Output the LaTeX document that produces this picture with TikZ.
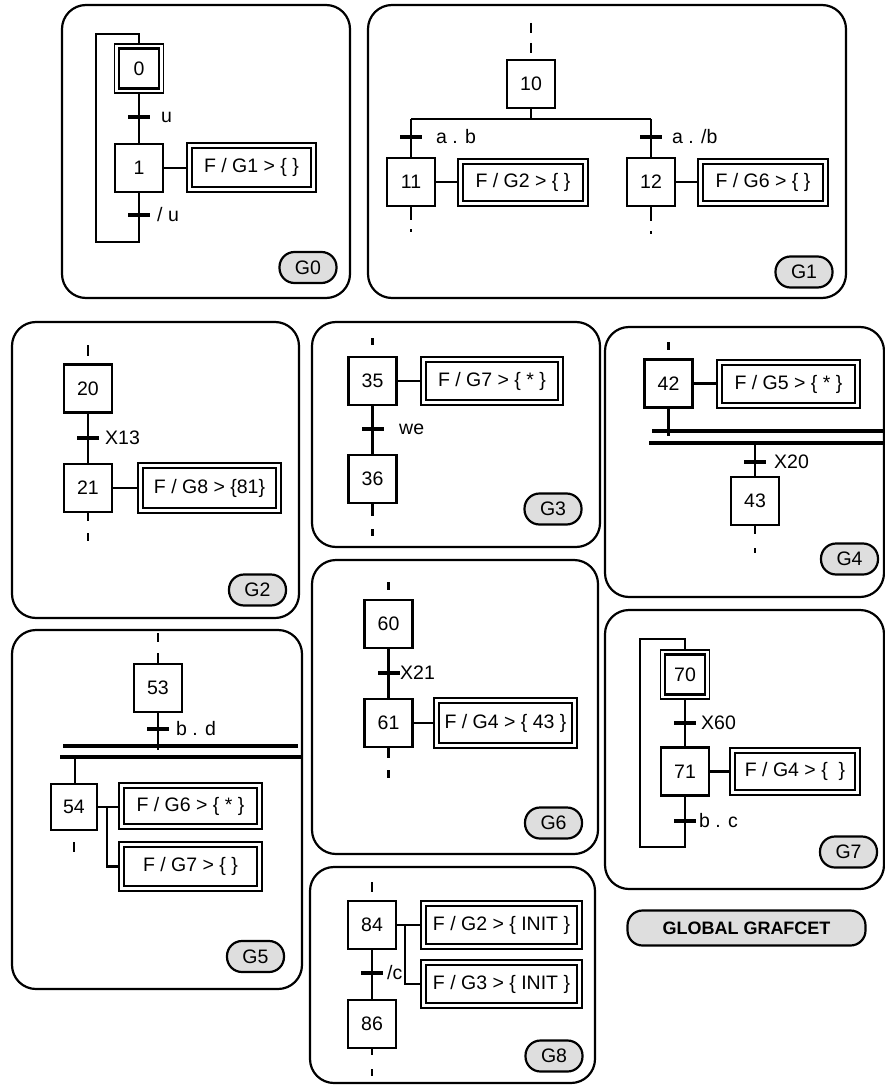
\documentclass[tikz,border=0pt]{standalone}
\usepackage{fontspec}
\setmainfont{Liberation Sans}
\usetikzlibrary{positioning, calc}
\usepackage{xcolor}
\definecolor{tagfill}{RGB}{222, 222, 222}

\begin{document}
\begin{tikzpicture}[
    x=1pt, y=-1pt,
    font=\fontsize{19.5}{22}\selectfont,
    % 面板样式
    panel/.style={draw=black, line width=2.2pt, rounded corners=24pt},
    % 步骤样式
    stepbox/.style={
        rectangle, draw=black, line width=2.4pt,
        minimum size=48, inner sep=0pt
    },
    % 初始步骤样式
    initstep/.style={
        rectangle, draw=black, line width=1.8pt,
        minimum size=49, inner sep=0pt,
        path picture={\draw[line width=2.8pt]
            ([shift={(4.5pt,-4.5pt)}]path picture bounding box.north west) rectangle
            ([shift={(-4.5pt,4.5pt)}]path picture bounding box.south east);}
    },
    % 动作样式
    actionbox/.style 2 args={
        rectangle, draw=black, line width=1.5pt,
        minimum width=#1, minimum height=#2, inner sep=0pt,
        path picture={\draw[line width=2.6pt]
            ([shift={(5pt,-5pt)}]path picture bounding box.north west) rectangle
            ([shift={(-5pt,5pt)}]path picture bounding box.south east);}
    },
    % 转换样式
    trans/.style={rectangle, fill=black, minimum width=22, minimum height=3.2, inner sep=0pt},
    cond/.style={anchor=west, inner sep=0pt},
    % 标签样式
    tag/.style={
        rectangle, rounded corners=15pt, draw=black, line width=2.2pt, fill=tagfill,
        minimum width=57, minimum height=31, inner sep=0pt
    },
    % 连线样式
    link/.style={line width=2.5pt},
    syncbar/.style={line width=3.4pt},
    tail/.style={link, dash pattern=#1},
]
\useasboundingbox (0,0) rectangle (885,1086);

% ==================== G0 ====================
\draw[panel] (62,5) rectangle (350,298);
\node[initstep] (s0) at (139,68.5) {0};
\node[trans] (t0) at (139,117) {};
\node[cond] (c0) at (161,117) {u};
\node[stepbox] (s1) at (139,168) {1};
\node[actionbox={129}{49}] (a1) at (251.5,167.5) {F / G1 > \{ \}};
\node[trans] (t1) at (139,215) {};
\node[cond] (c1) at (157,215) {/ u};
\node[tag] (g0) at (308,267.5) {G0};
\coordinate (l0a) at (139,242);
\coordinate (l0b) at (96,34);

\draw[link] (s0) -- (t0) -- (s1);
\draw[link] (s1.east) -- (s1.east -| a1.west);
\draw[link] (s1) -- (t1) -- (l0a) -| (l0b) -| (s0.north);

% ==================== G1 ====================
\draw[panel] (368,5) rectangle (846,298);
\coordinate (in10) at (531,23);
\node[stepbox] (s10) at (531,84) {10};
\coordinate (d10) at (531,119);
\coordinate (dl) at (411,119);
\coordinate (dr) at (651,119);
\node[trans] (t11) at (411,137) {};
\node[cond] (c11) at (436,137) {a . b};
\node[stepbox] (s11) at (411,182) {11};
\node[actionbox={130}{47}] (a11) at (523,182.5) {F / G2 > \{ \}};
\coordinate (e11) at (411,233);
\node[trans] (t12) at (651,137) {};
\node[cond] (c12) at (672,137) {a . /b};
\node[stepbox] (s12) at (651,182) {12};
\node[actionbox={130}{47}] (a12) at (763,182.5) {F / G6 > \{ \}};
\coordinate (e12) at (651,234);
\node[tag] (g1) at (804,272) {G1};

\draw[link, dash pattern=on 10pt off 10pt] (in10) -- (s10);
\draw[link] (s10) -- (d10);
\draw[link] (dl) -- (dr);
\draw[link] (dl) -- (t11) -- (s11);
\draw[link] (dr) -- (t12) -- (s12);
\draw[link] (s11.east) -- (s11.east -| a11.west);
\draw[link] (s12.east) -- (s12.east -| a12.west);
\draw[tail={on 13pt off 9pt on 3pt off 20pt}] (s11) -- (e11);
\draw[tail={on 14pt off 10pt on 3pt off 20pt}] (s12) -- (e12);

% ==================== G2 ====================
\draw[panel] (12,322) rectangle (299,618);
\coordinate (in20) at (88,345);
\node[stepbox] (s20) at (88,388.5) {20};
\node[trans] (t20) at (88,438) {};
\node[cond] (c20) at (105,438) {X13};
\node[stepbox] (s21) at (88,488) {21};
\node[actionbox={143}{50}] (a21) at (209.5,488) {F / G8 > \{81\}};
\coordinate (e21) at (88,541);
\node[tag] (g2) at (257.5,590) {G2};

\draw[link, dash pattern=on 11pt off 30pt] (in20) -- (s20);
\draw[link] (s20) -- (t20) -- (s21);
\draw[link] (s21.east) -- (s21.east -| a21.west);
\draw[tail={on 8pt off 12pt on 9pt off 20pt}] (s21) -- (e21);

% ==================== G3 ====================
\draw[panel] (312,322) rectangle (600,547);
\coordinate (in35) at (372.5,338);
\node[stepbox] (s35) at (372.5,381) {35};
\node[actionbox={142}{48}] (a35) at (492,381) {F / G7 > \{ * \}};
\node[trans] (t35) at (372.5,429) {};
\node[cond] (c35) at (399,429) {we};
\node[stepbox] (s36) at (372.5,479) {36};
\coordinate (e36) at (372.5,536);
\node[tag] (g3) at (553,509) {G3};

\draw[link, dash pattern=on 7pt off 30pt] (in35) -- (s35);
\draw[link] (s35.east) -- (s35.east -| a35.west);
\draw[link] (s35) -- (t35) -- (s36);
\draw[tail={on 12pt off 13pt on 8pt off 20pt}] (s36) -- (e36);

% ==================== G4 ====================
\draw[panel] (605,327) rectangle (884,597);
\coordinate (in42) at (668.5,342);
\node[stepbox] (s42) at (668.5,383.5) {42};
\node[actionbox={143}{48}] (a42) at (788.5,384) {F / G5 > \{ * \}};
\coordinate (j42) at (668.5,436);
\coordinate (b4al) at (652,431);
\coordinate (b4ar) at (885,431);
\coordinate (b4bl) at (649,443);
\coordinate (b4br) at (885,443);
\coordinate (k43) at (755,443);
\node[trans] (t43) at (755,462) {};
\node[cond] (c43) at (774,462) {X20};
\node[stepbox] (s43) at (755,501) {43};
\coordinate (e43) at (755,553);
\node[tag] (g4) at (849.5,559) {G4};

\draw[link, dash pattern=on 8pt off 30pt] (in42) -- (s42);
\draw[link] (s42.east) -- (s42.east -| a42.west);
\draw[link] (s42) -- (j42);
\draw[syncbar] (b4al) -- (b4ar);
\draw[syncbar] (b4bl) -- (b4br);
\draw[link] (k43) -- (t43) -- (s43);
\draw[tail={on 8pt off 14pt on 6pt off 20pt}] (s43) -- (e43);

% ==================== G5 ====================
\draw[panel] (12,630) rectangle (302,989);
\coordinate (in53) at (158,633);
\node[stepbox] (s53) at (158,688) {53};
\node[trans] (t53) at (158,729) {};
\node[cond] (c53) at (176,729) {b . d};
\coordinate (j53) at (158,750);
\coordinate (b5al) at (63,746);
\coordinate (b5ar) at (298,746);
\coordinate (b5bl) at (60,757);
\coordinate (b5br) at (302,757);
\coordinate (k54) at (75,757);
\node[stepbox, minimum size=46] (s54) at (74,807) {54};
\node[actionbox={143}{46}] (a54a) at (190.5,806) {F / G6 > \{ * \}};
\node[actionbox={143}{49}] (a54b) at (190.5,866.5) {F / G7 > \{ \}};
\coordinate (f54) at (107,807);
\coordinate (e54) at (74,852);
\node[tag] (g5) at (255.5,956.5) {G5};

\draw[link, dash pattern=on 9pt off 11pt on 20pt off 5pt] (in53) -- (s53);
\draw[link] (s53) -- (t53) -- (j53);
\draw[syncbar] (b5al) -- (b5ar);
\draw[syncbar] (b5bl) -- (b5br);
\draw[link] (k54) -- (k54 |- s54.north);
\draw[link] (s54.east) -- (s54.east -| a54a.west);
\draw[link] (f54) |- (a54b.west);
\draw[tail={on 0pt off 11pt on 10pt off 20pt}] (s54) -- (e54);

% ==================== G6 ====================
\draw[panel] (312,560) rectangle (598,854);
\coordinate (in60) at (388.5,582);
\node[stepbox] (s60) at (388.5,624) {60};
\node[trans] (t60) at (388.5,673) {};
\node[cond] (c60) at (400,673) {X21};
\node[stepbox] (s61) at (388.5,723) {61};
\node[actionbox={143}{50}] (a61) at (505.5,723) {F / G4 > \{ 43 \}};
\coordinate (e61) at (388.5,778);
\node[tag] (g6) at (553.5,823) {G6};

\draw[link, dash pattern=on 8pt off 30pt] (in60) -- (s60);
\draw[link] (s60) -- (t60) -- (s61);
\draw[link] (s61.east) -- (s61.east -| a61.west);
\draw[tail={on 10pt off 12pt on 8pt off 20pt}] (s61) -- (e61);

% ==================== G7 ====================
\draw[panel] (605,610) rectangle (884,889);
\node[initstep] (s70) at (685,674.5) {70};
\node[trans] (t70) at (685,723) {};
\node[cond] (c70) at (701,723) {X60};
\node[stepbox] (s71) at (685,771.5) {71};
\node[actionbox={130}{47}] (a71) at (795,771.5) {F / G4 > \{ \ \}};
\node[trans] (t71) at (685,821) {};
\node[cond] (c71) at (699,821) {b . c};
\coordinate (l7a) at (685,847);
\coordinate (l7b) at (640,639);
\node[tag] (g7) at (848.5,852) {G7};

\draw[link] (s70) -- (t70) -- (s71);
\draw[link] (s71.east) -- (s71.east -| a71.west);
\draw[link] (s71) -- (t71) -- (l7a) -| (l7b) -| (s70.north);

% ==================== G8 ====================
\draw[panel] (310,867) rectangle (595,1083);
\coordinate (in84) at (372,882);
\node[stepbox] (s84) at (372,925) {84};
\node[actionbox={161}{48}] (a84a) at (501.5,925) {F / G2 > \{ INIT \}};
\node[actionbox={161}{48}] (a84b) at (501.5,984) {F / G3 > \{ INIT \}};
\coordinate (f84) at (405,925);
\node[trans] (t84) at (372,973) {};
\node[cond] (c84) at (387,973) {/c};
\node[stepbox] (s86) at (372,1024) {86};
\coordinate (e86) at (372,1076);
\node[tag] (g8) at (554,1056) {G8};

\draw[link, dash pattern=on 10pt off 30pt] (in84) -- (s84);
\draw[link] (s84.east) -- (s84.east -| a84a.west);
\draw[link] (f84) |- (a84b.west);
\draw[link] (s84) -- (t84) -- (s86);
\draw[tail={on 6pt off 14pt on 8pt off 20pt}] (s86) -- (e86);

% ==================== 全局标签 ====================
\node[tag, minimum width=238, minimum height=35, font=\fontsize{18}{21}\selectfont\bfseries] (global) at (746.5,928) {GLOBAL GRAFCET};

\end{tikzpicture}
\end{document}
